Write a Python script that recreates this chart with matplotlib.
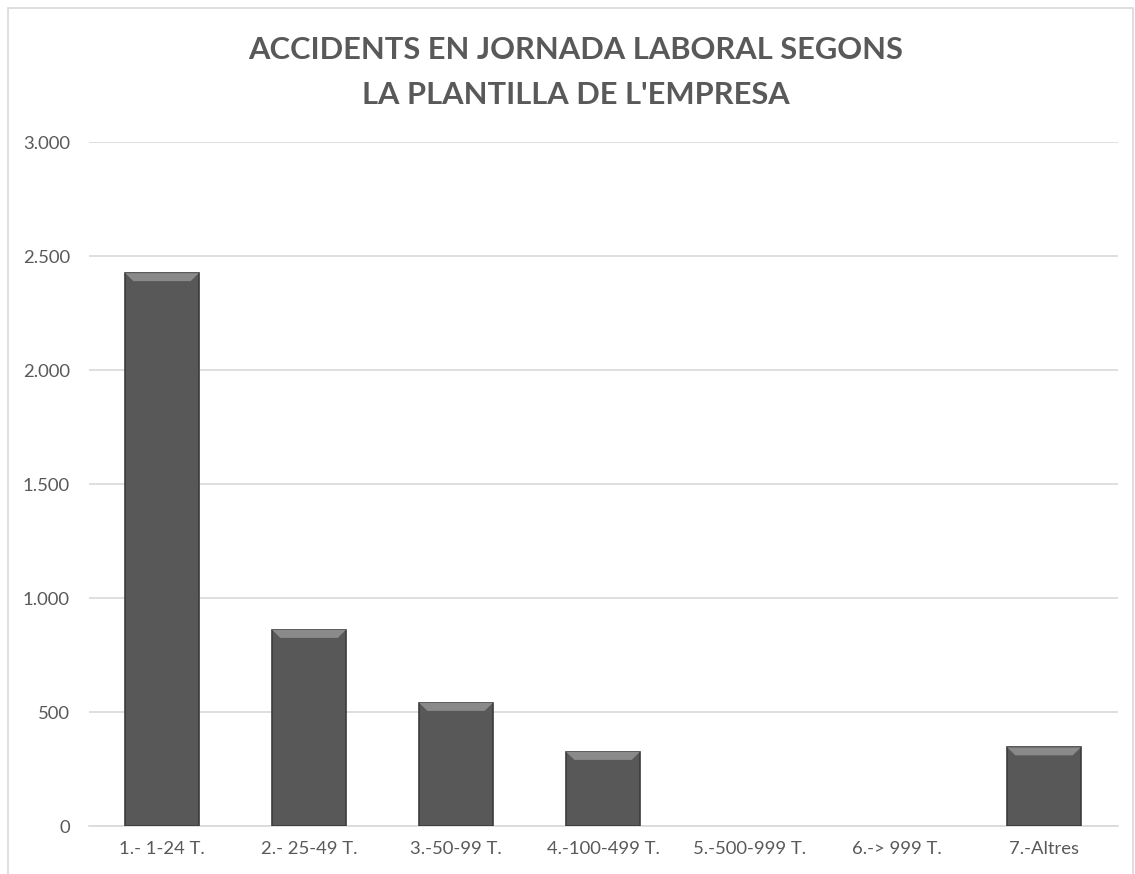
import matplotlib
matplotlib.use("Agg")
import matplotlib.pyplot as plt
from matplotlib.patches import Polygon, Rectangle
from matplotlib.ticker import FuncFormatter

categories = ["1.- 1-24 T.", "2.- 25-49 T.", "3.-50-99 T.", "4.-100-499 T.",
              "5.-500-999 T.", "6.-> 999 T.", "7.-Altres"]
values = [2425, 860, 540, 325, 0, 0, 345]
title_lines = ["ACCIDENTS EN JORNADA LABORAL SEGONS", "LA PLANTILLA DE L'EMPRESA"]

TEXT = "#595959"
BAR = "#585858"
BAR_EDGE = "#3c3c3c"
BEVEL = "#8a8a8a"
GRID = "#d9d9d9"

plt.rcParams["font.family"] = ["Lato", "DejaVu Sans"]

fig = plt.figure(figsize=(11.35, 8.74), dpi=100)
ax = fig.add_axes([0.078, 0.0549, 0.9066, 0.7826])

x = list(range(len(categories)))
width = 0.5
edges = [BAR_EDGE if v > 0 else "none" for v in values]
ax.bar(x, values, width=width, color=BAR, edgecolor=edges, linewidth=1.2, zorder=3)

# bevel highlight along the top of each bar
bevel_h = 35
bevel_w = 0.055
for xi, v in zip(x, values):
    if v <= 0:
        continue
    l, r = xi - width / 2, xi + width / 2
    h = min(bevel_h, v * 0.5)
    ax.add_patch(Polygon([(l, v), (r, v), (r - bevel_w, v - h), (l + bevel_w, v - h)],
                         closed=True, facecolor=BEVEL, edgecolor="none", zorder=4))

ax.set_xlim(-0.5, len(categories) - 0.5)
ax.set_ylim(0, 3000)
ax.set_yticks(range(0, 3001, 500))
ax.yaxis.set_major_formatter(FuncFormatter(lambda v, p: f"{int(v):,}".replace(",", ".")))
ax.set_xticks(x)
ax.set_xticklabels(categories)
ax.grid(True, axis="y", color=GRID, linewidth=1.2, zorder=0)
ax.tick_params(axis="both", length=0, labelsize=13.3, colors=TEXT)
ax.tick_params(axis="y", pad=13.5)
ax.tick_params(axis="x", pad=11)
for side in ["top", "right", "left"]:
    ax.spines[side].set_visible(False)
ax.spines["bottom"].set_color(GRID)
ax.spines["bottom"].set_linewidth(1.2)

fig.text(0.5075, 0.943, title_lines[0], ha="center", va="center",
         fontsize=22.2, fontweight="bold", color=TEXT)
fig.text(0.5075, 0.891, title_lines[1], ha="center", va="center",
         fontsize=22.2, fontweight="bold", color=TEXT)

fig.patches.append(Rectangle((8 / 1135, -0.01), 1125 / 1135, 1 - 8 / 874 + 0.01,
                             transform=fig.transFigure, fill=False,
                             edgecolor="#d9d9d9", linewidth=1.2))

fig.savefig("out.png", dpi=100)
